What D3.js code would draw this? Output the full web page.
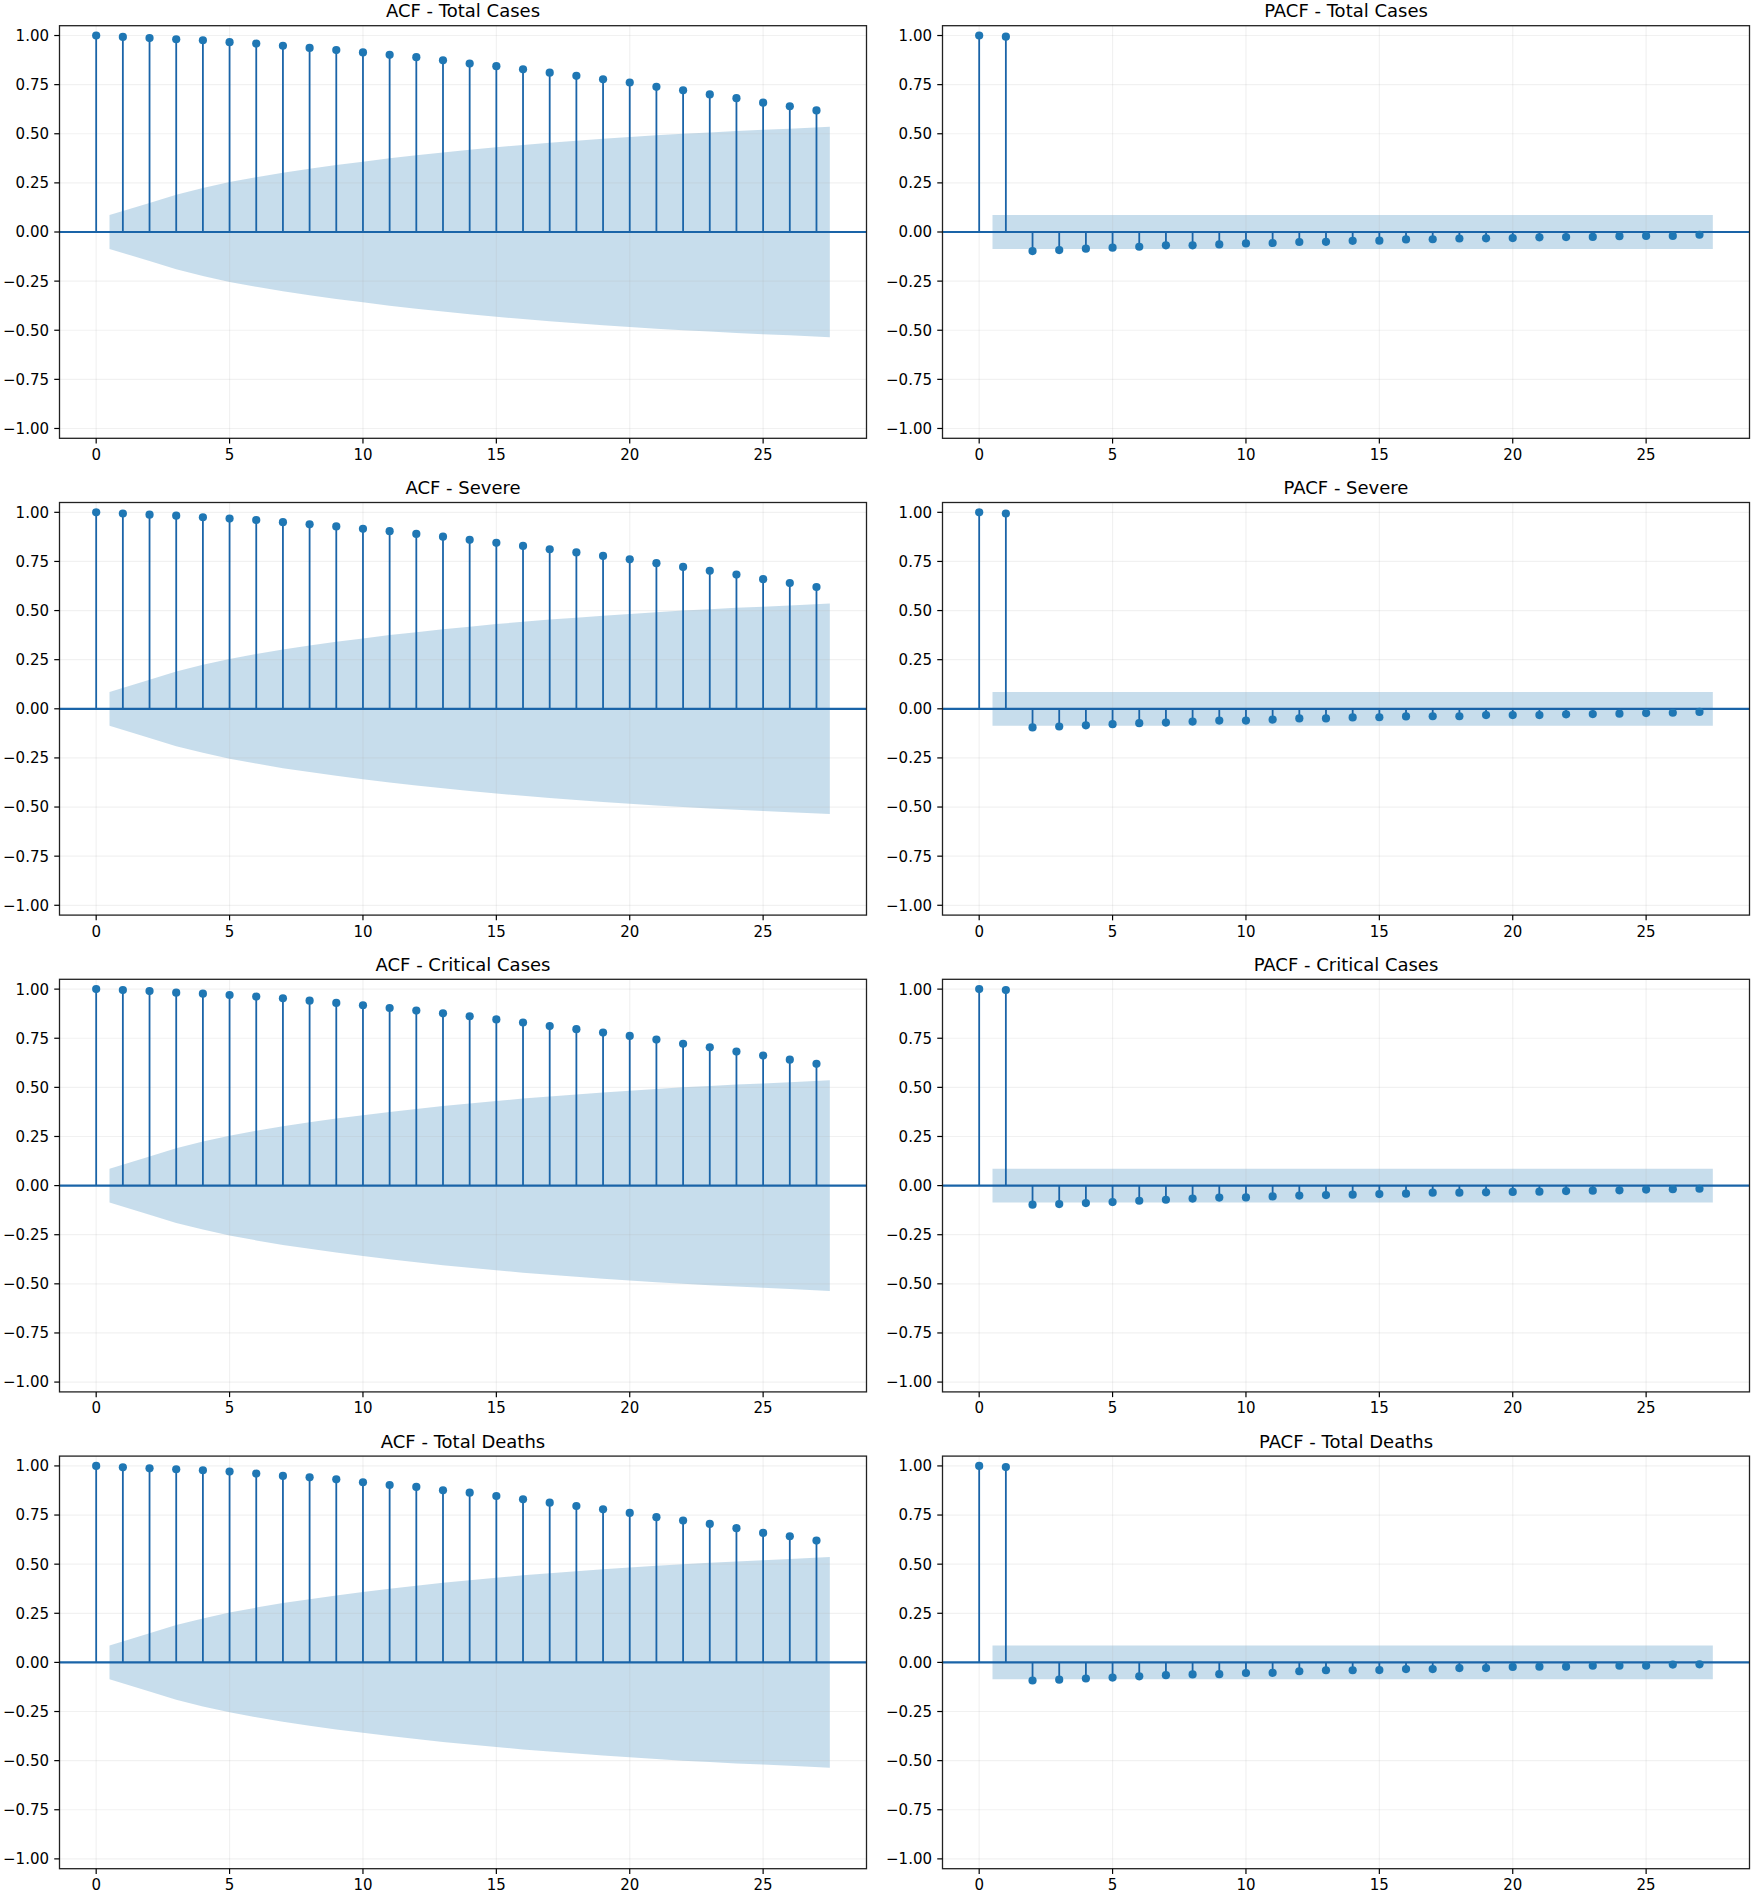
<!DOCTYPE html>
<html><head><meta charset="utf-8">
<script src="https://cdn.jsdelivr.net/npm/d3@7"></script>
<style>body{margin:0;background:#fff} text{font-family:"DejaVu Sans",sans-serif;fill:#000}</style>
</head><body><svg id="chart" width="1755" height="1894"></svg>
<script>
// ---- data ----
const lags = [0,1,2,3,4,5,6,7,8,9,10,11,12,13,14,15,16,17,18,19,20,21,22,23,24,25,26,27];
const seriesNames = ["Total Cases", "Severe", "Critical Cases", "Total Deaths"];

const acfTotalCases = [1.000,0.993,0.987,0.981,0.976,0.966,0.959,0.948,0.937,0.926,0.914,0.902,0.890,0.874,0.857,0.844,0.828,0.811,0.795,0.777,0.761,0.739,0.721,0.700,0.681,0.658,0.640,0.619];
const acfSevere     = [1.000,0.994,0.988,0.983,0.975,0.968,0.961,0.950,0.939,0.928,0.916,0.904,0.890,0.876,0.860,0.845,0.829,0.812,0.796,0.778,0.761,0.741,0.722,0.702,0.683,0.660,0.640,0.620];
const acfCritical   = [1.000,0.995,0.990,0.982,0.977,0.970,0.962,0.953,0.941,0.930,0.918,0.904,0.891,0.877,0.862,0.846,0.830,0.812,0.796,0.779,0.762,0.743,0.722,0.704,0.682,0.662,0.641,0.620];
const acfDeaths     = [1.000,0.993,0.988,0.983,0.978,0.971,0.961,0.949,0.942,0.932,0.917,0.903,0.893,0.876,0.864,0.847,0.830,0.813,0.796,0.779,0.761,0.739,0.722,0.705,0.683,0.659,0.642,0.620];

const pacfTotalCases = [1.000,0.994,-0.097,-0.092,-0.085,-0.080,-0.075,-0.068,-0.068,-0.063,-0.058,-0.056,-0.051,-0.050,-0.045,-0.044,-0.038,-0.037,-0.033,-0.032,-0.031,-0.027,-0.026,-0.025,-0.021,-0.020,-0.020,-0.014];
const pacfSevere     = [1.000,0.994,-0.095,-0.090,-0.084,-0.078,-0.073,-0.070,-0.065,-0.060,-0.060,-0.055,-0.049,-0.049,-0.044,-0.043,-0.039,-0.038,-0.038,-0.032,-0.032,-0.032,-0.028,-0.027,-0.025,-0.022,-0.020,-0.016];
const pacfCritical   = [1.000,0.995,-0.097,-0.094,-0.089,-0.084,-0.077,-0.072,-0.066,-0.061,-0.060,-0.055,-0.051,-0.048,-0.046,-0.043,-0.041,-0.036,-0.036,-0.034,-0.032,-0.031,-0.028,-0.026,-0.024,-0.020,-0.018,-0.016];
const pacfDeaths     = [1.000,0.994,-0.092,-0.088,-0.082,-0.077,-0.071,-0.065,-0.061,-0.060,-0.054,-0.053,-0.045,-0.040,-0.040,-0.039,-0.034,-0.034,-0.029,-0.029,-0.023,-0.022,-0.022,-0.017,-0.017,-0.017,-0.011,-0.010];

// confidence band half-widths for lags 1..27 (ACF), drawn from x=0.5 to x=27.5
const bandLags = [0.5,2,3,4,5,6,7,8,9,10,11,12,13,14,15,16,17,18,19,20,21,22,23,24,25,26,27.5];
const acfBand  = [0.086,0.148,0.190,0.224,0.254,0.279,0.302,0.322,0.341,0.358,0.375,0.390,0.405,0.418,0.431,0.443,0.454,0.464,0.474,0.483,0.492,0.500,0.507,0.514,0.520,0.526,0.536];
const pacfBand = [0.086,0.086,0.086,0.086,0.086,0.086,0.086,0.086,0.086,0.086,0.086,0.086,0.086,0.086,0.086,0.086,0.086,0.086,0.086,0.086,0.086,0.086,0.086,0.086,0.086,0.086,0.086];

const yTicks = [-1.0,-0.75,-0.5,-0.25,0,0.25,0.5,0.75,1.0];
const xTicks = [0,5,10,15,20,25];

const acfAll = [acfTotalCases, acfSevere, acfCritical, acfDeaths];
const pacfAll = [pacfTotalCases, pacfSevere, pacfCritical, pacfDeaths];

// ---- layout ----
const svg = d3.select("#chart");
svg.append("rect").attr("width",1755).attr("height",1894).attr("fill","#fff");
const colLeft = [59.5, 942.5];
const panelW = 807;
const rowTop = [25.7, 502.5, 979.3, 1456.1];
const panelH = 412.6;
const C0 = "#1f77b4";
const lineC = "#1a64a8";
const fmt = v => (v < 0 ? "\u2212" : "") + Math.abs(v).toFixed(2);

function panel(left, top, title, vals, band) {
  const x = d3.scaleLinear().domain([-1.375, 28.875]).range([left, left + panelW]);
  const y = d3.scaleLinear().domain([-1.05, 1.05]).range([top + panelH, top]);
  const g = svg.append("g");
  // confidence band
  const area = d3.area().x(d => x(d[0])).y0(d => y(-d[1])).y1(d => y(d[1]));
  g.append("path").datum(bandLags.map((l,i)=>[l, band[i]]))
    .attr("d", area).attr("fill", C0).attr("fill-opacity", 0.25);
  // grid
  g.append("g").selectAll("line").data(xTicks).join("line")
    .attr("x1", d=>x(d)).attr("x2", d=>x(d)).attr("y1", top).attr("y2", top+panelH)
    .attr("stroke", "#b0b0b0").attr("stroke-opacity", 0.18).attr("stroke-width", 1.2);
  g.append("g").selectAll("line").data(yTicks).join("line")
    .attr("y1", d=>y(d)).attr("y2", d=>y(d)).attr("x1", left).attr("x2", left+panelW)
    .attr("stroke", "#b0b0b0").attr("stroke-opacity", 0.18).attr("stroke-width", 1.2);
  // stems
  g.append("g").selectAll("line").data(lags).join("line")
    .attr("x1", d=>x(d)).attr("x2", d=>x(d)).attr("y1", y(0)).attr("y2", (d,i)=>y(vals[i]))
    .attr("stroke", lineC).attr("stroke-width", 1.8);
  // zero line
  g.append("line").attr("x1", left).attr("x2", left+panelW).attr("y1", y(0)).attr("y2", y(0))
    .attr("stroke", lineC).attr("stroke-width", 2.2);
  // markers
  g.append("g").selectAll("circle").data(lags).join("circle")
    .attr("cx", d=>x(d)).attr("cy", (d,i)=>y(vals[i])).attr("r", 4.1).attr("fill", C0);
  // spines
  g.append("rect").attr("x", left).attr("y", top).attr("width", panelW).attr("height", panelH)
    .attr("fill", "none").attr("stroke", "#222").attr("stroke-width", 1.3);
  // y ticks
  const yt = g.append("g").selectAll("g").data(yTicks).join("g");
  yt.append("line").attr("x1", left-5.25).attr("x2", left).attr("y1", d=>y(d)).attr("y2", d=>y(d))
    .attr("stroke", "#000").attr("stroke-width", 1.2);
  yt.append("text").attr("x", left-10.5).attr("y", d=>y(d)+5.4).attr("text-anchor","end")
    .attr("font-size", 15).text(d=>fmt(d));
  // x ticks
  const xt = g.append("g").selectAll("g").data(xTicks).join("g");
  xt.append("line").attr("x1", d=>x(d)).attr("x2", d=>x(d)).attr("y1", top+panelH).attr("y2", top+panelH+5.25)
    .attr("stroke", "#000").attr("stroke-width", 1.2);
  xt.append("text").attr("x", d=>x(d)).attr("y", top+panelH+21.5).attr("text-anchor","middle")
    .attr("font-size", 15).text(d=>d);
  // title
  g.append("text").attr("x", left+panelW/2).attr("y", top-8.4).attr("text-anchor","middle")
    .attr("font-size", 18).text(title);
}

seriesNames.forEach((name, r) => {
  panel(colLeft[0], rowTop[r], "ACF - " + name, acfAll[r], acfBand);
  panel(colLeft[1], rowTop[r], "PACF - " + name, pacfAll[r], pacfBand);
});
</script></body></html>
